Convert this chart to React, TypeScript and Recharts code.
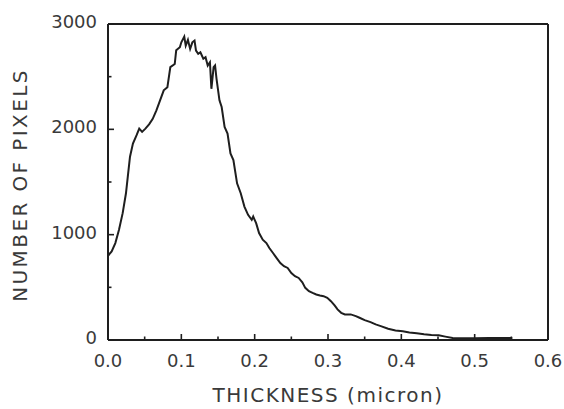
import React from "react";
import { LineChart, Line, XAxis, YAxis, ReferenceLine } from "recharts";

const thickness = [
  0, 0.005, 0.01, 0.015, 0.02, 0.0245, 0.027, 0.03, 0.034, 0.039, 0.0426, 0.0465, 0.051, 0.056, 0.061,
  0.066, 0.071, 0.076, 0.081, 0.085, 0.091, 0.093, 0.098, 0.1, 0.104, 0.106, 0.109, 0.112, 0.115,
  0.118, 0.12, 0.123, 0.126, 0.13, 0.133, 0.136, 0.139, 0.141, 0.144, 0.146, 0.148, 0.152, 0.155,
  0.159, 0.163, 0.167, 0.171, 0.176, 0.181, 0.186, 0.191, 0.196, 0.198, 0.202, 0.206, 0.211, 0.216,
  0.22, 0.225, 0.23, 0.235, 0.24, 0.245, 0.25, 0.255, 0.26, 0.265, 0.269, 0.274, 0.279, 0.284, 0.289,
  0.294, 0.299, 0.304, 0.309, 0.313, 0.318, 0.323, 0.331, 0.338, 0.343, 0.35, 0.358, 0.365, 0.372,
  0.382, 0.392, 0.402, 0.411, 0.421, 0.431, 0.441, 0.451, 0.46, 0.47, 0.48, 0.5, 0.519, 0.55, 0.55,
];

const pixels = [
  800, 840, 920, 1046, 1204, 1393, 1550, 1740, 1865, 1944, 2007, 1976, 2007, 2048, 2100,
  2180, 2275, 2370, 2400, 2590, 2620, 2750, 2780, 2826, 2880, 2795, 2850, 2763, 2826,
  2842, 2748, 2716, 2732, 2670, 2685, 2606, 2637, 2385, 2590, 2606, 2480, 2275, 2212,
  2023, 1960, 1771, 1708, 1487, 1393, 1267, 1188, 1141, 1172, 1109, 1015, 952, 920,
  873, 826, 778, 731, 700, 684, 636, 605, 589, 548, 495, 463, 447, 432, 422,
  416, 400, 369, 328, 290, 258, 243, 243, 227, 211, 189, 170, 148, 132,
  107, 91, 82, 72, 63, 54, 47, 44, 32, 19, 16, 16, 19, 19, 0,
];

const xTicks = [0, 0.05, 0.1, 0.15, 0.2, 0.25, 0.3, 0.35, 0.4, 0.45, 0.5, 0.55, 0.6];
const yTicks = [0, 500, 1000, 1500, 2000, 2500, 3000];
const xLabelTicks = [0, 0.1, 0.2, 0.3, 0.4, 0.5, 0.6];
const yLabelTicks = [0, 1000, 2000, 3000];

const data = thickness.map((t, i) => ({ t, n: pixels[i] }));

const FONT = "'DejaVu Sans', sans-serif";
const TEXT = "#3a3a3a";
const INK = "#1e1e1e";
const PLOT_BOTTOM = 340;

const isLabelX = (v: number) => xLabelTicks.some((l) => Math.abs(l - v) < 1e-6);
const isLabelY = (v: number) => yLabelTicks.some((l) => Math.abs(l - v) < 1e-6);

const renderXTick = (props: any) => {
  const { x, y, payload } = props;
  const major = isLabelX(payload.value);
  return (
    <g key={`xt-${payload.value}`}>
      <path
        d={`M${x},${PLOT_BOTTOM} L${x},${PLOT_BOTTOM - (major ? 6 : 3.5)}`}
        stroke={INK}
        strokeWidth={1.6}
        fill="none"
      />
      {major && (
        <text x={x} y={y + 27} textAnchor="middle" fontFamily={FONT} fontSize={18} fill={TEXT}>
          {payload.value.toFixed(1)}
        </text>
      )}
    </g>
  );
};

const renderYTick = (props: any) => {
  const { x, y, payload } = props;
  const major = isLabelY(payload.value);
  return (
    <g key={`yt-${payload.value}`}>
      <path d={`M${x},${y} L${x + (major ? 6 : 3.5)},${y}`} stroke={INK} strokeWidth={1.6} fill="none" />
      {major && (
        <text x={x - 11} y={y + 4} textAnchor="end" fontFamily={FONT} fontSize={18} fill={TEXT}>
          {String(payload.value)}
        </text>
      )}
    </g>
  );
};

export default function App() {
  return (
    <div style={{ position: "fixed", left: 0, top: 0, width: 564, height: 409, background: "#fff" }}>
      <LineChart width={564} height={409} data={data} margin={{ top: 24, right: 16, bottom: 19, left: 16 }}>
        <XAxis
          dataKey="t"
          type="number"
          domain={[0, 0.6]}
          ticks={xTicks}
          interval={0}
          tickSize={0}
          tickMargin={0}
          tickLine={false}
          stroke={INK}
          strokeWidth={2}
          tick={renderXTick}
          height={50}
          label={{
            content: (p: any) => {
              const vb = p.viewBox;
              return (
                <text
                  x={vb.x + vb.width / 2}
                  y={vb.y + 62}
                  textAnchor="middle"
                  fontFamily={FONT}
                  fontSize={20}
                  letterSpacing={1.5}
                  fill={TEXT}
                >
                  THICKNESS (micron)
                </text>
              );
            },
          }}
        />
        <YAxis
          type="number"
          domain={[0, 3000]}
          ticks={yTicks}
          interval={0}
          tickSize={0}
          tickMargin={0}
          tickLine={false}
          stroke={INK}
          strokeWidth={2}
          tick={renderYTick}
          width={92}
          label={{
            content: (p: any) => {
              const vb = p.viewBox;
              const cx = vb.x + vb.width - 81;
              const cy = vb.y + vb.height / 2 + 3;
              return (
                <text
                  x={cx}
                  y={cy}
                  transform={`rotate(-90 ${cx} ${cy})`}
                  textAnchor="middle"
                  fontFamily={FONT}
                  fontSize={20}
                  letterSpacing={2.4}
                  fill={TEXT}
                >
                  NUMBER OF PIXELS
                </text>
              );
            },
          }}
        />
        <ReferenceLine y={3000} stroke={INK} strokeWidth={2} ifOverflow="extendDomain" />
        <ReferenceLine x={0.6} stroke={INK} strokeWidth={2} ifOverflow="extendDomain" />
        <Line
          type="linear"
          dataKey="n"
          stroke={INK}
          strokeWidth={2}
          dot={false}
          isAnimationActive={false}
        />
      </LineChart>
    </div>
  );
}
